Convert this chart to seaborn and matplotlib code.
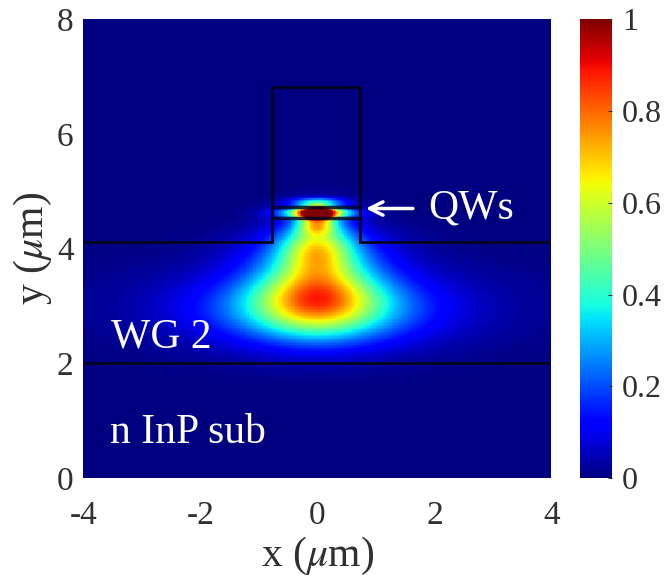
import numpy as np
import matplotlib
matplotlib.use("Agg")
import matplotlib.pyplot as plt
import seaborn as sns

# domain (um)
x_range = [-4, 4]
y_range = [0, 8]
x_ticks = [-4, -2, 0, 2, 4]
y_ticks = [0, 2, 4, 6, 8]
cbar_ticks = [0, 0.2, 0.4, 0.6, 0.8, 1]
cbar_labels = ["0", "0.2", "0.4", "0.6", "0.8", "1"]

# mode intensity lobes: centre x, centre y, width x, width y, peak
lobe_cx = [0.0, 0.0, 0.0, 0.0, 0.0, 0.0, 0.0, 0.0, 0.0, 0.0]
lobe_cy = [3.20, 3.00, 2.90, 4.05, 3.95, 4.42, 4.63, 4.63, 4.82, 3.05]
lobe_sx = [0.68, 1.10, 1.60, 0.42, 0.85, 0.22, 0.18, 0.42, 0.32, 2.60]
lobe_sy = [0.43, 0.42, 0.45, 0.36, 0.32, 0.12, 0.08, 0.07, 0.05, 0.60]
lobe_amp = [0.44, 0.30, 0.12, 0.42, 0.18, 0.40, 1.00, 0.60, 0.30, 0.04]

# structure outlines (um)
ridge_left, ridge_right = -0.78, 0.73
ridge_top = 6.81
ridge_base = 4.12
qw_y = [4.53, 4.72]
wg_y = 2.0

nx, ny = 320, 320
xs = np.linspace(x_range[0], x_range[1], nx)
ys = np.linspace(y_range[0], y_range[1], ny)
X, Y = np.meshgrid(xs, ys)
field = np.zeros_like(X)
for cx, cy, sx, sy, a in zip(lobe_cx, lobe_cy, lobe_sx, lobe_sy, lobe_amp):
    field += a * np.exp(-((X - cx) ** 2) / (2 * sx ** 2) - ((Y - cy) ** 2) / (2 * sy ** 2))
field = np.clip(field, 0, 1)


def fx(x):
    return (x - x_range[0]) / (x_range[1] - x_range[0]) * nx


def fy(y):
    return (y - y_range[0]) / (y_range[1] - y_range[0]) * ny


plt.rcParams["font.family"] = ["Liberation Serif", "DejaVu Serif"]
plt.rcParams["mathtext.fontset"] = "stix"

fig = plt.figure(figsize=(6.66, 5.81), dpi=100)
ax = fig.add_axes([0.125, 0.177, 0.703, 0.790])
cax = fig.add_axes([0.871, 0.177, 0.048, 0.790])

sns.heatmap(field, cmap="jet", vmin=0, vmax=1, ax=ax, cbar_ax=cax,
            xticklabels=False, yticklabels=False, rasterized=True)
ax.invert_yaxis()

# outlines
lc = "#05051f"
ax.plot([fx(ridge_left), fx(ridge_left), fx(ridge_right), fx(ridge_right)],
        [fy(ridge_base), fy(ridge_top), fy(ridge_top), fy(ridge_base)], color=lc, lw=2)
ax.plot([fx(x_range[0]), fx(ridge_left)], [fy(ridge_base)] * 2, color=lc, lw=2)
ax.plot([fx(ridge_right), fx(x_range[1])], [fy(ridge_base)] * 2, color=lc, lw=2)
for q in qw_y:
    ax.plot([fx(ridge_left), fx(ridge_right)], [fy(q)] * 2, color=lc, lw=2.5, alpha=0.85)
ax.plot([fx(x_range[0]), fx(x_range[1])], [fy(wg_y)] * 2, color=lc, lw=2)

ax.set_xticks([fx(v) for v in x_ticks])
ax.set_xticklabels([str(v) for v in x_ticks])
ax.set_yticks([fy(v) for v in y_ticks])
ax.set_yticklabels([str(v) for v in y_ticks], rotation=0)
ax.tick_params(labelsize=24, length=0, colors="#303030")
ax.tick_params(axis="x", pad=16)
ax.tick_params(axis="y", pad=7)
ax.set_xlabel(r"x ($\mu$m)", fontsize=30, color="#303030", labelpad=3)
ax.set_ylabel(r"y ($\mu$m)", fontsize=30, color="#303030", labelpad=2)

# annotations
ax.annotate("", xy=(fx(0.78), fy(4.70)), xytext=(fx(1.68), fy(4.70)),
            arrowprops=dict(arrowstyle="->", color="white", lw=2.5, mutation_scale=24))
ax.text(fx(1.9), fy(4.70), "QWs", color="white", fontsize=30, va="center", ha="left")
ax.text(fx(-3.52), fy(2.45), "WG 2", color="white", fontsize=30, va="center", ha="left")
ax.text(fx(-3.55), fy(0.80), "n InP sub", color="white", fontsize=30, va="center", ha="left")

cbar = ax.collections[0].colorbar
cbar.outline.set_visible(False)
cbar.set_ticks(cbar_ticks)
cbar.set_ticklabels(cbar_labels)
cax.tick_params(labelsize=23, length=3, direction="in", colors="#303030", pad=7)

fig.savefig("out.png", dpi=100)
